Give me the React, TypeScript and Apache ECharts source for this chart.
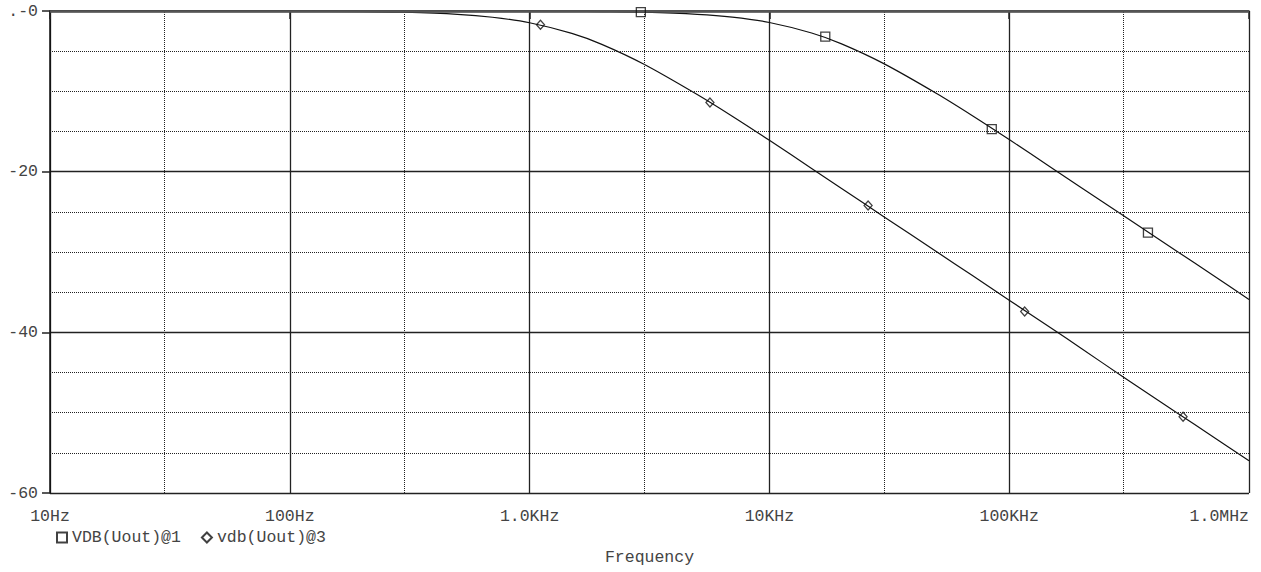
import React, { useEffect, useRef } from "react";
import * as echarts from "echarts";

const FONT = "'Liberation Mono', 'Courier New', Courier, monospace";

const freqHz = [10, 20, 50, 100, 200, 300, 500, 700, 1000, 1500, 2000, 3000, 5000, 7000, 10000, 15000, 20000, 30000, 50000, 70000, 100000, 150000, 200000, 300000, 500000, 700000, 1000000];
const vdb1 = [0, 0, 0, 0, 0, 0, -0.004, -0.008, -0.02, -0.04, -0.07, -0.15, -0.41, -0.76, -1.43, -2.74, -4.09, -6.55, -10.3, -13.0, -16.0, -19.5, -22.0, -25.5, -29.9, -32.8, -35.9];
const vdb3 = [0, 0, -0.004, -0.017, -0.07, -0.15, -0.41, -0.78, -1.46, -2.79, -4.15, -6.63, -10.4, -13.1, -16.1, -19.6, -22.1, -25.6, -30.0, -32.9, -36.0, -39.5, -42.0, -45.6, -50.0, -52.9, -56.0];

const marker1Freq = [2910, 17100, 84600, 379000];
const marker1Db = [-0.14, -3.2, -14.7, -27.6];
const marker3Freq = [1110, 5650, 25800, 116000, 531000];
const marker3Db = [-1.7, -11.4, -24.2, -37.4, -50.5];

const minorFreqs = [30, 300, 3000, 30000, 300000];
const minorDb = [-5, -10, -15, -25, -30, -35, -45, -50, -55];

const xTickLabels: Record<number, string> = {
  10: "10Hz",
  100: "100Hz",
  1000: "1.0KHz",
  10000: "10KHz",
  100000: "100KHz",
  1000000: "1.0MHz",
};

const name1 = "VDB(Uout)@1";
const name3 = "vdb(Uout)@3";

export default function App() {
  const ref = useRef<HTMLDivElement>(null);
  useEffect(() => {
    document.body.style.margin = "0";
    if (!ref.current) return;
    const chart = echarts.init(ref.current, null, { renderer: "svg" });
    const zip = (a: number[], b: number[]) => a.map((v, i) => [v, b[i]]);
    const markerStyle = { color: "rgba(0,0,0,0)", borderColor: "#111", borderWidth: 1.3 };
    const txt = { fontFamily: FONT, fontSize: 16.5, color: "#444" };
    chart.setOption({
      animation: false,
      backgroundColor: "#fff",
      grid: { left: 50, right: 12, top: 11, bottom: 79, containLabel: false, outerBoundsMode: "none" },
      legend: {
        left: 51,
        top: 524,
        itemWidth: 10,
        itemHeight: 10,
        itemGap: 20,
        textStyle: txt,
        data: [
          { name: name1, icon: "rect" },
          { name: name3, icon: "diamond" },
        ],
      },
      xAxis: {
        type: "log",
        logBase: 10,
        min: 10,
        max: 1000000,
        name: "Frequency",
        nameLocation: "middle",
        nameGap: 56,
        nameTextStyle: txt,
        axisLine: { show: true, lineStyle: { color: "#222", width: 1.5 } },
        axisTick: { show: true, length: 8, lineStyle: { color: "#222", width: 1.5 } },
        axisLabel: {
          margin: 15,
          ...txt,
          alignMaxLabel: "right",
          formatter: (v: number) => xTickLabels[Math.round(v)] ?? "",
        },
        splitLine: { show: true, lineStyle: { color: "#222", width: 1.3 } },
        minorTick: { show: false },
        minorSplitLine: { show: false },
      },
      yAxis: {
        type: "value",
        min: -60,
        max: 0,
        interval: 20,
        axisLine: { show: true, lineStyle: { color: "#111", width: 1.5 } },
        axisTick: { show: true, length: 8, lineStyle: { color: "#222", width: 1.5 } },
        axisLabel: {
          margin: 12,
          ...txt,
          formatter: (v: number) => (v === 0 ? ".-0" : String(v)),
        },
        splitLine: { show: true, lineStyle: { color: "#222", width: 1.3 } },
      },
      series: [
        {
          name: name1,
          type: "scatter",
          symbol: "rect",
          symbolSize: 9,
          itemStyle: markerStyle,
          data: zip(marker1Freq, marker1Db),
          z: 5,
        },
        {
          name: name3,
          type: "scatter",
          symbol: "diamond",
          symbolSize: [8, 9],
          itemStyle: markerStyle,
          data: zip(marker3Freq, marker3Db),
          z: 5,
        },
        {
          name: name1,
          type: "line",
          symbol: "none",
          smooth: 0.3,
          lineStyle: { color: "#111", width: 1.2 },
          itemStyle: markerStyle,
          data: zip(freqHz, vdb1),
          z: 4,
          markLine: {
            silent: true,
            symbol: ["none", "none"],
            label: { show: false },
            lineStyle: { type: "dotted", color: "#222", width: 1 },
            data: [
              ...minorFreqs.map((f) => ({ xAxis: f })),
              ...minorDb.map((d) => ({ yAxis: d })),
            ],
          },
        },
        {
          name: name3,
          type: "line",
          symbol: "none",
          smooth: 0.3,
          lineStyle: { color: "#111", width: 1.2 },
          itemStyle: markerStyle,
          data: zip(freqHz, vdb3),
          z: 4,
          markLine: {
            silent: true,
            symbol: ["none", "none"],
            label: { show: false },
            lineStyle: { type: "solid", color: "#555", width: 2.5 },
            data: [{ yAxis: 0 }],
          },
        },
      ],
    });
    return () => chart.dispose();
  }, []);
  return <div ref={ref} style={{ width: 1261, height: 572 }} />;
}
